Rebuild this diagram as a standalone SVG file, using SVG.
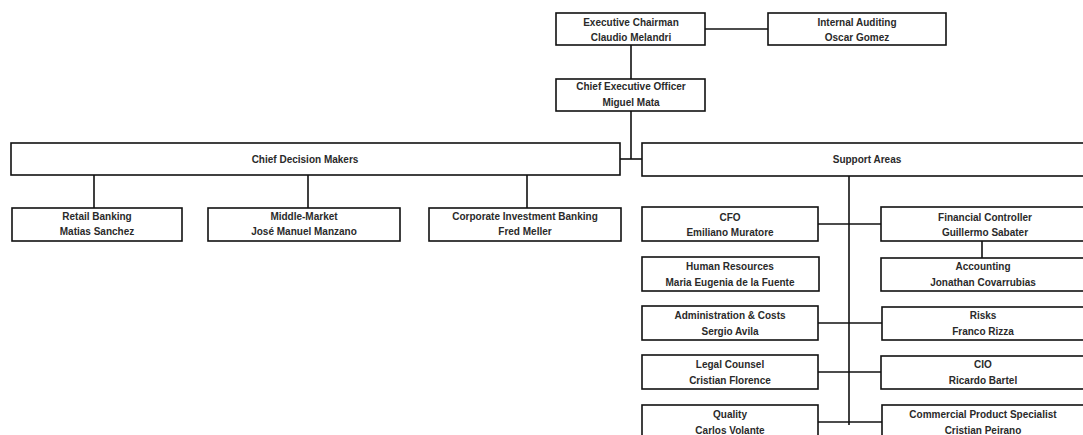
<svg xmlns="http://www.w3.org/2000/svg" width="1083" height="435" viewBox="0 0 1083 435">
<style>
.b{fill:#fff;stroke:#111;stroke-width:1.6}
.t{font-family:"Liberation Sans",Arial,sans-serif;font-size:10px;font-weight:bold;fill:#2a2a2a;text-anchor:middle}
.c{stroke:#111;stroke-width:1.6;fill:none}
</style>
<rect width="1083" height="435" fill="#fff"/>
<g id="connectors">
<path class="c" d="M705 29H768"/>
<path class="c" d="M631 45V79"/>
<path class="c" d="M631 111V159"/>
<path class="c" d="M620 159H642"/>
<path class="c" d="M94 175V208M308 175V208M527 175V208"/>
<path class="c" d="M849 176V425"/>
<path class="c" d="M818 224H881"/>
<path class="c" d="M982 241V258"/>
<path class="c" d="M818 323H882"/>
<path class="c" d="M817 372H881"/>
<path class="c" d="M817 422H884"/>
</g>
<g id="executive-chairman"><rect class="b" x="556" y="13" width="149" height="32"/><text class="t" x="631" y="26">Executive Chairman</text><text class="t" x="631" y="41">Claudio Melandri</text></g>
<g id="internal-auditing"><rect class="b" x="768" y="13" width="178" height="32"/><text class="t" x="857" y="26">Internal Auditing</text><text class="t" x="857" y="41">Oscar Gomez</text></g>
<g id="ceo"><rect class="b" x="556" y="79" width="149" height="32"/><text class="t" x="631" y="90">Chief Executive Officer</text><text class="t" x="631" y="106">Miguel Mata</text></g>
<g id="chief-decision-makers"><rect class="b" x="11" y="143" width="609" height="32"/><text class="t" x="305" y="163">Chief Decision Makers</text></g>
<g id="support-areas"><rect class="b" x="642" y="143" width="450" height="33"/><text class="t" x="867" y="163">Support Areas</text></g>
<g id="retail-banking"><rect class="b" x="12" y="208" width="170" height="33"/><text class="t" x="97" y="220">Retail Banking</text><text class="t" x="97" y="235">Matias Sanchez</text></g>
<g id="middle-market"><rect class="b" x="208" y="208" width="192" height="33"/><text class="t" x="304" y="220">Middle-Market</text><text class="t" x="304" y="235">José Manuel Manzano</text></g>
<g id="corporate-investment-banking"><rect class="b" x="429" y="208" width="192" height="33"/><text class="t" x="525" y="220">Corporate Investment Banking</text><text class="t" x="525" y="235">Fred Meller</text></g>
<g id="cfo"><rect class="b" x="642" y="207" width="176" height="34"/><text class="t" x="730" y="221">CFO</text><text class="t" x="730" y="236">Emiliano Muratore</text></g>
<g id="financial-controller"><rect class="b" x="881" y="207" width="210" height="34"/><text class="t" x="985" y="221">Financial Controller</text><text class="t" x="985" y="236">Guillermo Sabater</text></g>
<g id="human-resources"><rect class="b" x="642" y="257" width="177" height="34"/><text class="t" x="730" y="270">Human Resources</text><text class="t" x="730" y="286">Maria Eugenia de la Fuente</text></g>
<g id="accounting"><rect class="b" x="881" y="258" width="210" height="33"/><text class="t" x="983" y="270">Accounting</text><text class="t" x="983" y="286">Jonathan Covarrubias</text></g>
<g id="administration-costs"><rect class="b" x="642" y="306" width="176" height="34"/><text class="t" x="730" y="319">Administration &amp; Costs</text><text class="t" x="730" y="335">Sergio Avila</text></g>
<g id="risks"><rect class="b" x="882" y="307" width="210" height="33"/><text class="t" x="983" y="319">Risks</text><text class="t" x="983" y="335">Franco Rizza</text></g>
<g id="legal-counsel"><rect class="b" x="642" y="355" width="176" height="34"/><text class="t" x="730" y="368">Legal Counsel</text><text class="t" x="730" y="384">Cristian Florence</text></g>
<g id="cio"><rect class="b" x="881" y="356" width="210" height="33"/><text class="t" x="983" y="368">CIO</text><text class="t" x="983" y="384">Ricardo Bartel</text></g>
<g id="quality"><rect class="b" x="642" y="405" width="176" height="36"/><text class="t" x="730" y="418">Quality</text><text class="t" x="730" y="434">Carlos Volante</text></g>
<g id="commercial-product-specialist"><rect class="b" x="882" y="405" width="210" height="36"/><text class="t" x="983" y="418">Commercial Product Specialist</text><text class="t" x="983" y="434">Cristian Peirano</text></g>
</svg>
